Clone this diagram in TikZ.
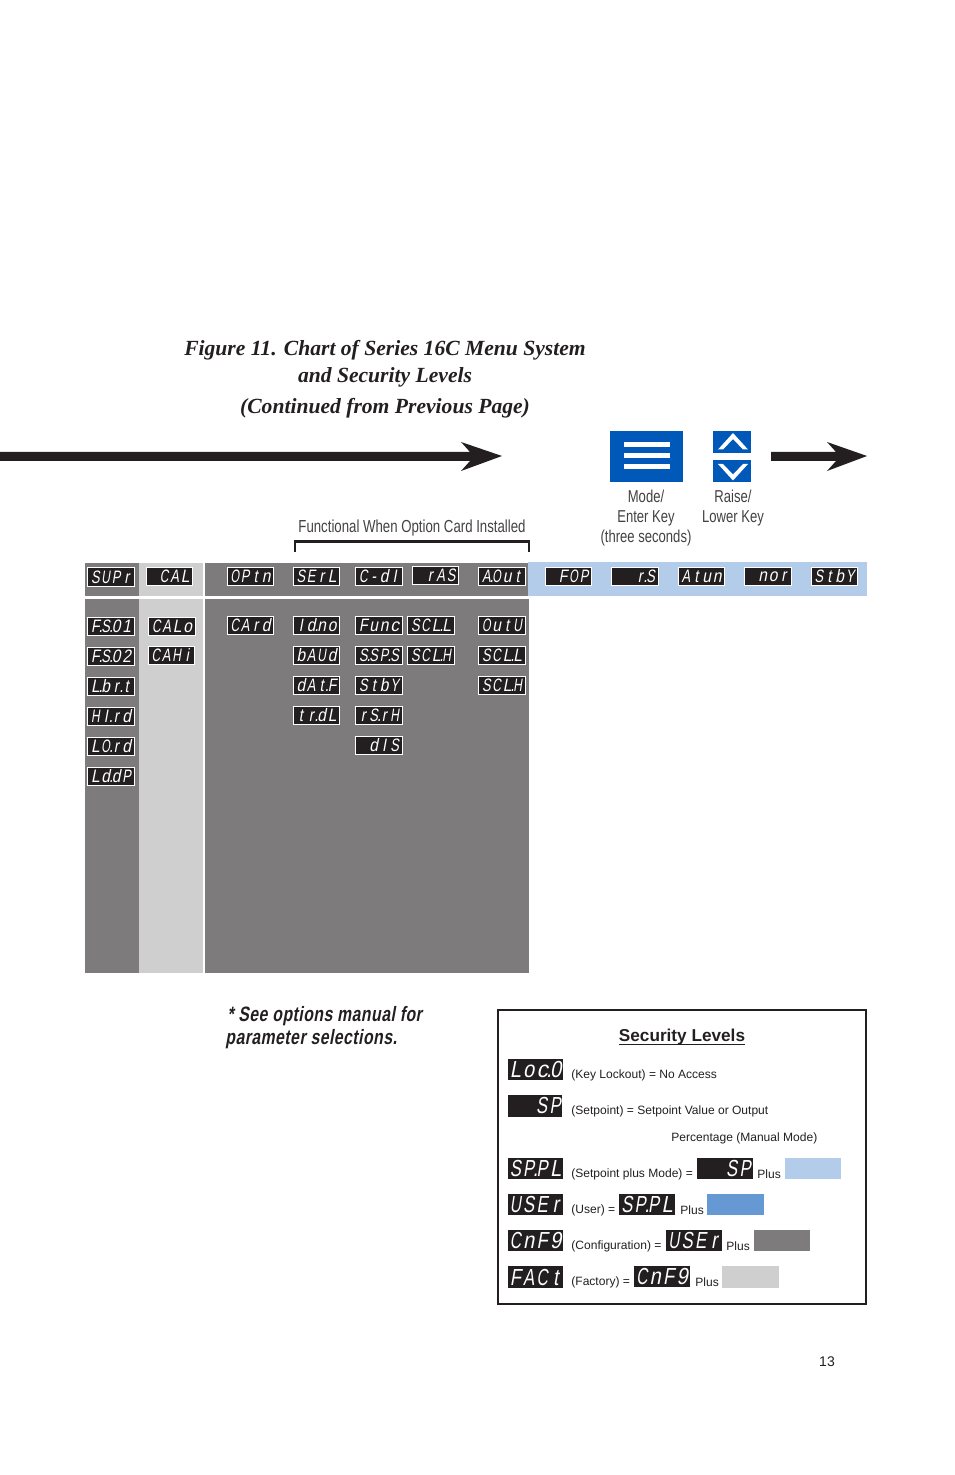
\documentclass[tikz,border=0pt]{standalone}
\usepackage{graphicx}
\usepackage{fontspec}
\setmainfont{Liberation Sans}
\newfontfamily\ledfont[FakeSlant=0.18,FakeStretch=0.8]{Liberation Sans}
\newfontfamily\narrowfont[FakeStretch=0.76]{Liberation Sans}
\newfontfamily\notefont[FakeStretch=0.76,FakeSlant=0.18,LetterSpace=2.3]{Liberation Sans Bold}
\newfontfamily\titlefont{Liberation Serif}
\definecolor{chartgrey}{HTML}{7D7B7C}
\definecolor{chartlight}{HTML}{CFCFCF}
\definecolor{chartblue}{HTML}{B2CCE9}
\definecolor{usermid}{HTML}{6699D3}
\definecolor{keyblue}{HTML}{0058B8}
\definecolor{inkblack}{HTML}{231F20}
% four-cell display text: * is an empty cell, a dot takes no cell, the rest fill their cell
\newcommand{\ledplain}[1]{\makebox[.58em][c]{#1}}
\newcommand{\ledchar}[1]{%
  \ifx#1.\makebox[0pt][c]{.}%
  \else\ifx#1*\makebox[.58em]{}%
  \else\ifx#1I\ledplain{I}%
  \else\ifx#1i\ledplain{i}%
  \else\ifx#1-\ledplain{-}%
  \else\ifx#1r\ledplain{r}%
  \else\ifx#1t\ledplain{t}%
  \else\makebox[.58em][c]{\resizebox{.48em}{\height}{#1}}%
  \fi\fi\fi\fi\fi\fi\fi}
\def\ledloop#1{\ifx#1\relax\else\ledchar{#1}\expandafter\ledloop\fi}
\newcommand{\ledtext}[1]{\ledloop#1\relax}
\newcommand{\lcd}[6]{% name x0 y0 x1 y1 text
  \pgfmathsetmacro{\lw}{(#4-#2)*0.5-0.55}\pgfmathsetmacro{\lh}{(#5-#3)*0.5-0.55}
  \node[ledbox,minimum width=\lw pt,minimum height=\lh pt] (#1) at ({(#2+#4)/2},{(#3+#5)/2}) {\ledtext{#6}};}
\newcommand{\lcdbig}[6]{%
  \pgfmathsetmacro{\lw}{(#4-#2)*0.5}\pgfmathsetmacro{\lh}{(#5-#3)*0.5}
  \node[ledbig,minimum width=\lw pt,minimum height=\lh pt] (#1) at ({(#2+#4)/2},{(#3+#5)/2}) {\ledtext{#6}};}
\tikzset{
  ledbox/.style={fill=inkblack,draw=white,line width=0.55pt,inner sep=0pt,outer sep=0pt,text=white,font=\ledfont\fontsize{9}{10}\selectfont},
  ledbig/.style={fill=inkblack,inner sep=0pt,outer sep=0pt,text=white,font=\ledfont\fontsize{11.6}{13}\selectfont},
  keytext/.style={inner sep=0pt,text=inkblack!85,font=\narrowfont\fontsize{8.6}{10}\selectfont},
  titletext/.style={inner sep=0pt,text=inkblack,font=\titlefont\bfseries\itshape\fontsize{10.8}{13}\selectfont},
  notetext/.style={inner sep=0pt,anchor=west,text=inkblack,font=\notefont\fontsize{10.4}{12}\selectfont},
  sectext/.style={inner sep=0pt,anchor=west,text=inkblack,font=\fontsize{6.02}{7}\selectfont},
}
\begin{document}
\begin{tikzpicture}[x=0.5pt,y=-0.5pt]
\useasboundingbox (0,0) rectangle (954,1475);
% chart bands
\fill[chartgrey] (85,563) rectangle (139,596);
\fill[chartlight] (139,563) rectangle (203,596);
\fill[chartgrey] (205,563) rectangle (529,596);
\fill[chartblue] (528,562) rectangle (867,596);
\fill[chartgrey] (85,599) rectangle (139,973);
\fill[chartlight] (139,599) rectangle (203,973);
\fill[chartgrey] (205,599) rectangle (529,973);
% title
\node[titletext] (t1) at (385,350) {Figure 11. Chart of Series 16C Menu System};
\node[titletext] (t2) at (385,377) {and Security Levels};
\node[titletext] (t3) at (385,408) {(Continued from Previous Page)};
% arrows
\fill[inkblack] (0,452) -- (470,452) -- (461,442) -- (502,456) -- (461,471) -- (470,461) -- (0,461) -- cycle;
\fill[inkblack] (771,452) -- (836,452) -- (827,442) -- (867,456) -- (827,471) -- (836,461) -- (771,461) -- cycle;
% keys
\fill[keyblue] (610,431) rectangle (683,482);
\fill[white] (624,442) rectangle (670,447);
\fill[white] (624,453) rectangle (670,458);
\fill[white] (624,464) rectangle (670,469);
\fill[keyblue] (713,431) rectangle (751,453);
\fill[keyblue] (713,460) rectangle (751,482);
\fill[white] (718,449.5) -- (733,433) -- (748,449.5) -- (743,449.5) -- (733,439) -- (723,449.5) -- cycle;
\fill[white] (718,464) -- (733,480.5) -- (748,464) -- (743,464) -- (733,474.5) -- (723,464) -- cycle;
\node[keytext] (k1) at (646,496) {Mode/};
\node[keytext] (k2) at (646,518) {Enter Key};
\node[keytext] (k3) at (646,538) {(three seconds)};
\node[keytext] (k4) at (733,496) {Raise/};
\node[keytext] (k5) at (733,518) {Lower Key};
\node[keytext,font=\narrowfont\fontsize{8.7}{10}\selectfont] (fn) at (412,528) {Functional When Option Card Installed};
\draw[inkblack,line width=1.2pt] (295,552) -- (295,541.5) -- (529,541.5) -- (529,552);
% top row
\lcd{a1}{87}{567}{135}{587}{SUPr}
\lcd{a2}{146}{567}{193}{586}{*CAL}
\lcd{a3}{227}{567}{274}{586}{OPtn}
\lcd{a4}{293}{567}{340}{586}{SErL}
\lcd{a5}{355}{567}{403}{586}{C-dI}
\lcd{a6}{412}{566}{459}{585}{*rAS}
\lcd{a7}{478}{567}{526}{586}{A.Out}
\lcd{a8}{545}{567}{592}{586}{*FOP}
\lcd{a9}{611}{567}{659}{586}{**r.S}
\lcd{a10}{678}{567}{725}{586}{Atun}
\lcd{a11}{744}{567}{792}{586}{*nor}
\lcd{a12}{811}{567}{858}{586}{StbY}
% column 1
\lcd{b1}{87}{617}{135}{636}{F.S.01}
\lcd{b2}{87}{647}{135}{666}{F.S.02}
\lcd{b3}{87}{677}{135}{696}{L.br.t}
\lcd{b4}{87}{707}{135}{726}{HI.rd}
\lcd{b5}{87}{737}{135}{756}{LO.rd}
\lcd{b6}{87}{767}{135}{786}{Ld.dP}
% column 2
\lcd{c1}{148}{617}{196}{636}{CALo}
\lcd{c2}{148}{646}{195}{665}{CAHi}
% column 3
\lcd{d1}{227}{616}{274}{635}{CArd}
% column 4
\lcd{e1}{293}{616}{340}{635}{Id.no}
\lcd{e2}{293}{646}{340}{665}{bAUd}
\lcd{e3}{293}{676}{340}{695}{dAt.F}
\lcd{e4}{293}{706}{340}{725}{tr.dL}
% column 5
\lcd{f1}{355}{616}{403}{635}{Func}
\lcd{f2}{355}{646}{403}{665}{S.SP.S}
\lcd{f3}{355}{676}{403}{695}{StbY}
\lcd{f4}{355}{706}{403}{725}{rS.rH}
\lcd{f5}{355}{736}{403}{755}{*dIS}
% column 6
\lcd{g1}{407}{616}{455}{635}{SCL.L}
\lcd{g2}{407}{646}{455}{665}{SCL.H}
% column 7
\lcd{h1}{478}{616}{526}{635}{OutU}
\lcd{h2}{478}{646}{526}{665}{SCL.L}
\lcd{h3}{478}{676}{526}{695}{SCL.H}
% note
\node[notetext] (n1) at (227,1016) {* See options manual for};
\node[notetext] (n2) at (225,1039) {parameter selections.};
% security box
\draw[inkblack,line width=1.2pt] (498,1010) rectangle (866,1304);
\node[inner sep=0pt,text=inkblack,font=\bfseries\fontsize{8.6}{10}\selectfont] (s0) at (682,1037) {Security Levels};
\draw[inkblack,line width=0.5pt] (619,1044) -- (745,1044);
\lcdbig{s1}{508}{1059}{563}{1080}{Loc.0}
\lcdbig{s2}{508}{1095}{562}{1117}{**SP}
\lcdbig{s3}{508}{1158}{563}{1179}{SP.PL}
\lcdbig{s4}{508}{1194}{563}{1215}{USEr}
\lcdbig{s5}{508}{1230}{563}{1251}{CnF9}
\lcdbig{s6}{508}{1266}{563}{1288}{FACt}
\node[sectext] (x1) at (571,1075) {(Key Lockout) = No Access};
\node[sectext] (x2) at (571,1111) {(Setpoint) = Setpoint Value or Output};
\node[sectext] (x3) at (671,1138) {Percentage (Manual Mode)};
\node[sectext] (x4) at (571,1174) {(Setpoint plus Mode) =};
\node[sectext] (x5) at (571,1210) {(User) =};
\node[sectext] (x6) at (571,1246) {(Configuration) =};
\node[sectext] (x7) at (571,1282) {(Factory) =};
\lcdbig{y1}{697}{1158}{753}{1179}{**SP}
\lcdbig{y2}{619}{1194}{675}{1215}{SP.PL}
\lcdbig{y3}{666}{1230}{722}{1251}{USEr}
\lcdbig{y4}{634}{1266}{690}{1287}{CnF9}
\node[sectext] (p1) at (757,1174) {Plus};
\node[sectext] (p2) at (680,1210) {Plus};
\node[sectext] (p3) at (726,1246) {Plus};
\node[sectext] (p4) at (695,1282) {Plus};
\fill[chartblue] (785,1158) rectangle (841,1179);
\fill[usermid] (707,1194) rectangle (764,1215);
\fill[chartgrey] (754,1230) rectangle (810,1251);
\fill[chartlight] (722,1266) rectangle (779,1288);
\node[inner sep=0pt,text=inkblack,font=\fontsize{7}{8}\selectfont] (pg) at (827,1362) {13};
\end{tikzpicture}
\end{document}
